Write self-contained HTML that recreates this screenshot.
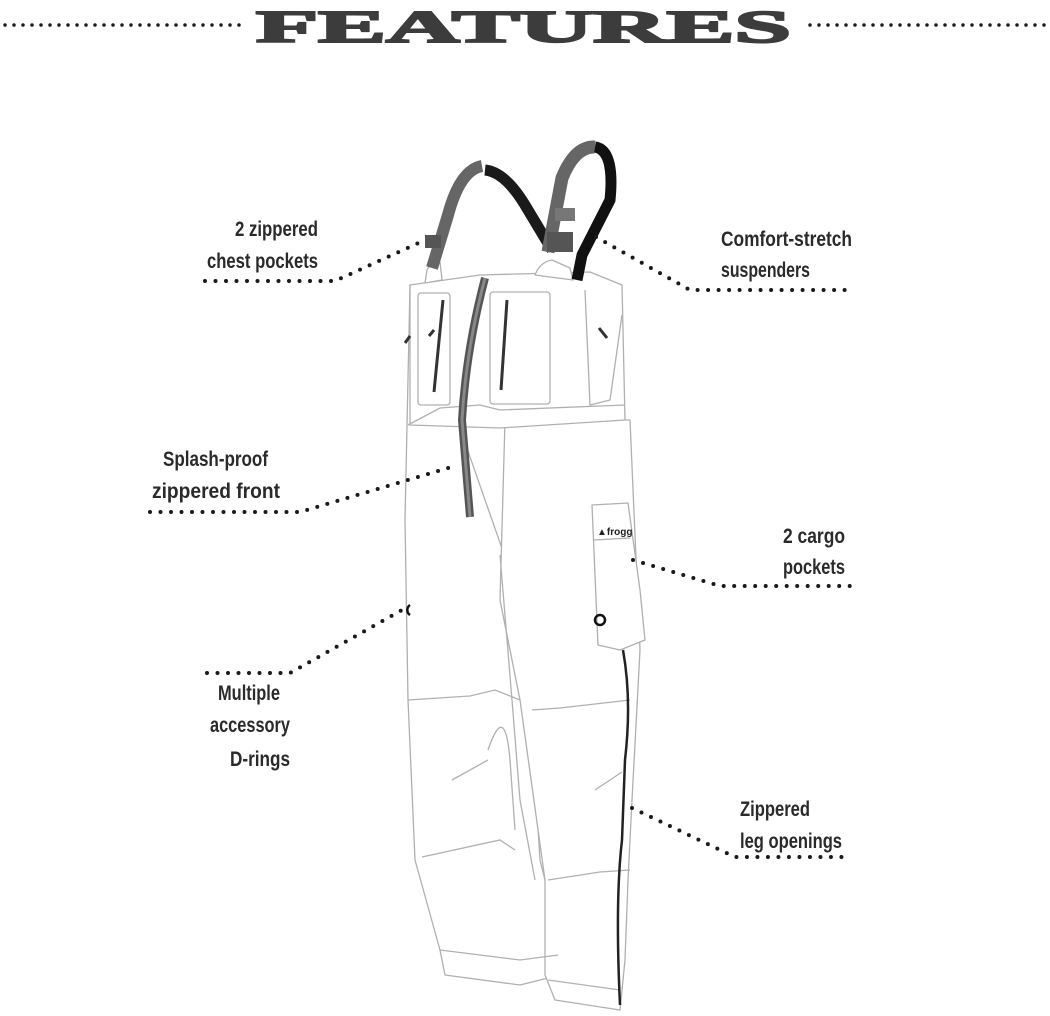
<!DOCTYPE html>
<html><head><meta charset="utf-8"><style>
html,body{margin:0;padding:0;background:#fff;}
svg{display:block}
.t{font-family:"Liberation Sans Narrow","Liberation Sans",sans-serif;font-weight:bold;font-size:21px;fill:#2a2a2a;}
.d{fill:none;stroke:#1a1a1a;stroke-width:4;stroke-linecap:round;stroke-dasharray:0 10.5;}
.o{fill:#fff;stroke:#b0b0b0;stroke-width:1.3;stroke-linejoin:round}
.l{fill:none;stroke:#b0b0b0;stroke-width:1.3}
</style></head><body>
<svg width="1050" height="1016" viewBox="0 0 1050 1016">
<!-- title -->
<path class="d" d="M5 25 H240" style="stroke-width:3.5;stroke-dasharray:0 9"/>
<path class="d" d="M810 25 H1046" style="stroke-width:3.5;stroke-dasharray:0 9"/>
<text x="256" y="42" textLength="535" lengthAdjust="spacingAndGlyphs" style="font-family:'Liberation Serif',serif;font-weight:bold;font-size:46px;fill:#3c3c3c;stroke:#3c3c3c;stroke-width:2">FEATURES</text>

<!-- pants drawing -->
<g>
<path class="o" d="M410 285 L405 520 L408 700 L415 860 L440 950 L445 975 L520 985 L560 975 L555 920 L540 860 L530 700 L520 600 Z"/>
<path class="o" d="M505 420 L500 600 L520 700 L545 880 L545 975 L555 1000 L620 1010 L625 960 L628 880 L632 800 L640 650 L630 420 Z"/>
<path class="l" d="M408 700 L470 696 L495 690 L520 700"/>
<path class="l" d="M532 710 L560 708 L630 700"/>
<path class="l" d="M422 857 L500 840 L515 850"/>
<path class="l" d="M548 880 L600 872 L630 870"/>
<path class="l" d="M440 950 L520 960 L558 955"/>
<path class="l" d="M548 980 L620 990"/>
<path class="l" d="M500 555 L512 700 L520 800 L535 880"/>
<path class="l" d="M488 750 Q505 700 510 760 L515 830"/>
<path class="l" d="M452 780 L488 760"/>
<path class="l" d="M595 790 L622 772"/>
<path class="o" d="M410 285 L480 275 L590 272 L622 285 L625 420 L500 428 L410 425 Z"/>
<path class="l" d="M408 425 L440 408 L480 405 L500 410 L625 405"/>
<rect class="o" x="418" y="293" width="32" height="112" rx="3"/>
<rect class="o" x="490" y="292" width="60" height="112" rx="3"/>
<path class="l" d="M585 290 L590 405 L610 400 L622 315"/>
<path d="M443 300 L434 392" stroke="#333" stroke-width="3" fill="none"/>
<path d="M507 300 L501 390" stroke="#333" stroke-width="3" fill="none"/>
<path d="M405 343 L410 336" stroke="#333" stroke-width="3"/>
<path d="M599 328 L607 338" stroke="#333" stroke-width="3"/>
<path d="M429 336 L434 330" stroke="#333" stroke-width="3"/>
<path d="M485 278 Q466 350 462 420 L470 517" stroke="#555" stroke-width="8" fill="none"/>
<path d="M485 278 Q466 350 462 420 L470 517" stroke="#888" stroke-width="3" fill="none"/>
<path class="o" d="M427 270 Q432 260 440 262 L442 280 L425 283 Z"/>
<path class="o" d="M535 275 Q540 262 552 260 L570 268 L573 280 Z"/>
<!-- suspenders -->
<path d="M485 170 Q505 172 525 205 L552 250" stroke="#1a1a1a" stroke-width="11" fill="none"/>
<path d="M432 268 L448 215 Q460 170 482 166" stroke="#666" stroke-width="12" fill="none"/>
<path d="M548 252 L562 178 Q575 146 595 147" stroke="#666" stroke-width="13" fill="none"/>
<path d="M595 147 Q615 150 610 200 L582 255 L577 280" stroke="#111" stroke-width="11" fill="none"/>
<rect x="425" y="235" width="16" height="13" fill="#555"/>
<rect x="547" y="232" width="26" height="20" fill="#555"/>
<rect x="555" y="208" width="20" height="13" fill="#777"/>
<!-- cargo pocket -->
<path class="o" d="M592 505 L628 503 L640 590 L645 640 L620 650 L598 645 Z"/>
<path class="l" d="M594 540 L630 538"/>
<text x="597" y="535" style="font-family:'Liberation Sans',sans-serif;font-size:10px;font-weight:bold;fill:#222">▲frogg</text>
<circle cx="600" cy="620" r="5" fill="none" stroke="#111" stroke-width="2.5"/>
<path d="M410 605 A6 6 0 0 0 410 615" fill="none" stroke="#111" stroke-width="2.5"/>
<path d="M623 650 Q632 700 625 760 L622 840 Q615 900 620 1005" stroke="#222" stroke-width="2.5" fill="none"/>
</g>

<!-- connectors -->
<path class="d" d="M205 281 H335 L425 240"/>
<path class="d" d="M596 237 L690 290 H850"/>
<path class="d" d="M150 512 H300 L455 466"/>
<path class="d" d="M633 560 L720 586 H852"/>
<path class="d" d="M207 673 H290 L402 610"/>
<path class="d" d="M632 808 L735 857 H846"/>

<!-- labels -->
<text class="t" x="235" y="236" textLength="83" lengthAdjust="spacingAndGlyphs">2 zippered</text>
<text class="t" x="207" y="268" textLength="111" lengthAdjust="spacingAndGlyphs">chest pockets</text>
<text class="t" x="721" y="246" textLength="131" lengthAdjust="spacingAndGlyphs">Comfort-stretch</text>
<text class="t" x="721" y="277" textLength="89" lengthAdjust="spacingAndGlyphs">suspenders</text>
<text class="t" x="163" y="466" textLength="105" lengthAdjust="spacingAndGlyphs">Splash-proof</text>
<text class="t" x="152" y="498" textLength="128" lengthAdjust="spacingAndGlyphs">zippered front</text>
<text class="t" x="783" y="543" textLength="62" lengthAdjust="spacingAndGlyphs">2 cargo</text>
<text class="t" x="783" y="574" textLength="62" lengthAdjust="spacingAndGlyphs">pockets</text>
<text class="t" x="218" y="700" textLength="62" lengthAdjust="spacingAndGlyphs">Multiple</text>
<text class="t" x="210" y="732" textLength="80" lengthAdjust="spacingAndGlyphs">accessory</text>
<text class="t" x="230" y="766" textLength="60" lengthAdjust="spacingAndGlyphs">D-rings</text>
<text class="t" x="740" y="816" textLength="70" lengthAdjust="spacingAndGlyphs">Zippered</text>
<text class="t" x="740" y="848" textLength="102" lengthAdjust="spacingAndGlyphs">leg openings</text>
</svg>
</body></html>
